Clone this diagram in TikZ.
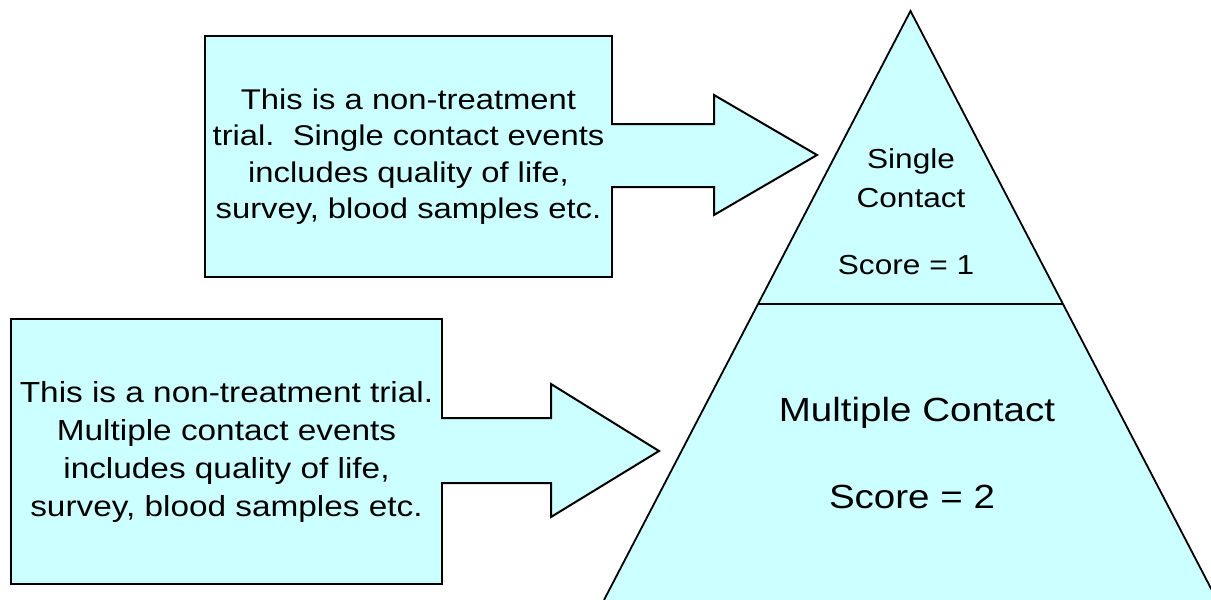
\documentclass[tikz,border=0pt]{standalone}
\usepackage{fontspec}
\setmainfont{Liberation Sans}[FakeStretch=1.15]
\definecolor{paleblue}{RGB}{204,255,255}
\tikzset{
  infobox/.style={draw=black, fill=paleblue, line width=2pt, rectangle,
    align=center, inner sep=0pt},
  blockarrow/.style={draw=black, line width=2pt, line join=miter},
  pyrline/.style={draw=black, line width=1.8pt},
  pyrtext/.style={anchor=base, inner sep=0pt}
}
\begin{document}
\begin{tikzpicture}[x=1pt, y=-1pt]
\useasboundingbox (0,0) rectangle (1211,600);
\clip (0,0) rectangle (1211,600);

% pyramid
\coordinate (apex) at (910.5,11);
\coordinate (bl) at (604,600);
\coordinate (br) at (1217,600);
\coordinate (dl) at (758,304);
\coordinate (dr) at (1063,304);
\fill[paleblue] (bl) -- (apex) -- (br) -- cycle;
\draw[pyrline, line join=miter] (bl) -- (apex) -- (br);
\draw[pyrline] (dl) -- (dr);

\node[pyrtext, font=\fontsize{27.5}{33}\selectfont] (single) at (911,168) {Single};
\node[pyrtext, font=\fontsize{27.5}{33}\selectfont] (contact) at (911,207) {Contact};
\node[pyrtext, font=\fontsize{27.5}{33}\selectfont] (score1) at (906,274) {Score = 1};
\node[pyrtext, font=\fontsize{33.5}{40}\selectfont] (multi) at (917,421) {Multiple Contact};
\node[pyrtext, font=\fontsize{33.5}{40}\selectfont] (score2) at (912,508) {Score = 2};

% top box
\node[infobox, minimum width=407pt, minimum height=241pt,
      font=\fontsize{28.5}{36.5}\selectfont] (box1) at (408.5,156.5)
  {This is a non-treatment\\trial.\ \ Single contact events\\includes quality of life,\\survey, blood samples etc.};

% bottom box
\node[infobox, minimum width=431pt, minimum height=265pt,
      font=\fontsize{29}{38}\selectfont] (box2) at (226.5,451.5)
  {This is a non-treatment trial.\\Multiple contact events\\includes quality of life,\\survey, blood samples etc.};

% top block arrow
\coordinate (a1s1) at (612,124);
\coordinate (a1h1) at (714,124);
\coordinate (a1t) at (714,95);
\coordinate (a1tip) at (817,155);
\coordinate (a1b) at (714,215);
\coordinate (a1h2) at (714,187);
\coordinate (a1s2) at (612,187);
\fill[paleblue] ([xshift=-2pt]a1s1) -- (a1h1) -- (a1t) -- (a1tip) -- (a1b) -- (a1h2) -- ([xshift=-2pt]a1s2) -- cycle;
\draw[blockarrow] ([xshift=-1pt]a1s1) -- (a1h1) -- (a1t) -- (a1tip) -- (a1b) -- (a1h2) -- ([xshift=-1pt]a1s2);

% bottom block arrow
\coordinate (a2s1) at (442,418);
\coordinate (a2h1) at (551,418);
\coordinate (a2t) at (551,384);
\coordinate (a2tip) at (659,451);
\coordinate (a2b) at (551,517);
\coordinate (a2h2) at (551,483);
\coordinate (a2s2) at (442,483);
\fill[paleblue] ([xshift=-2pt]a2s1) -- (a2h1) -- (a2t) -- (a2tip) -- (a2b) -- (a2h2) -- ([xshift=-2pt]a2s2) -- cycle;
\draw[blockarrow] ([xshift=-1pt]a2s1) -- (a2h1) -- (a2t) -- (a2tip) -- (a2b) -- (a2h2) -- ([xshift=-1pt]a2s2);
\end{tikzpicture}
\end{document}
